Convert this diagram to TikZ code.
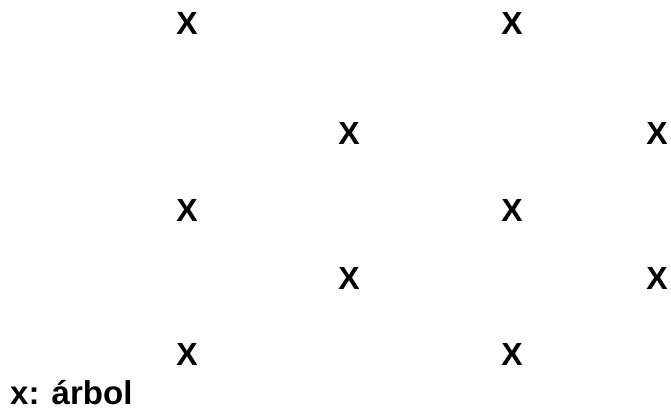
\documentclass[tikz,border=0pt]{standalone}
\usepackage{fontspec}
\setmainfont{Liberation Sans}
\begin{document}
\begin{tikzpicture}[x=1pt,y=1pt,
  tree/.style={font=\fontsize{32}{36}\selectfont\bfseries, inner sep=0pt},
  legend/.style={font=\fontsize{33}{37}\selectfont\bfseries, inner sep=0pt, anchor=base west}]
\useasboundingbox (0,0) rectangle (671,411);
\node[tree] (a1) at (187,387) {X};
\node[tree] (a2) at (512,387) {X};
\node[tree] (b1) at (349,278) {X};
\node[tree] (b2) at (657,278) {X};
\node[tree] (c1) at (187,201) {X};
\node[tree] (c2) at (512,201) {X};
\node[tree] (d1) at (349,133) {X};
\node[tree] (d2) at (657,133) {X};
\node[tree] (e1) at (187,57) {X};
\node[tree] (e2) at (512,57) {X};
\node[legend] (leg) at (10,6) {x: árbol};
\end{tikzpicture}
\end{document}
